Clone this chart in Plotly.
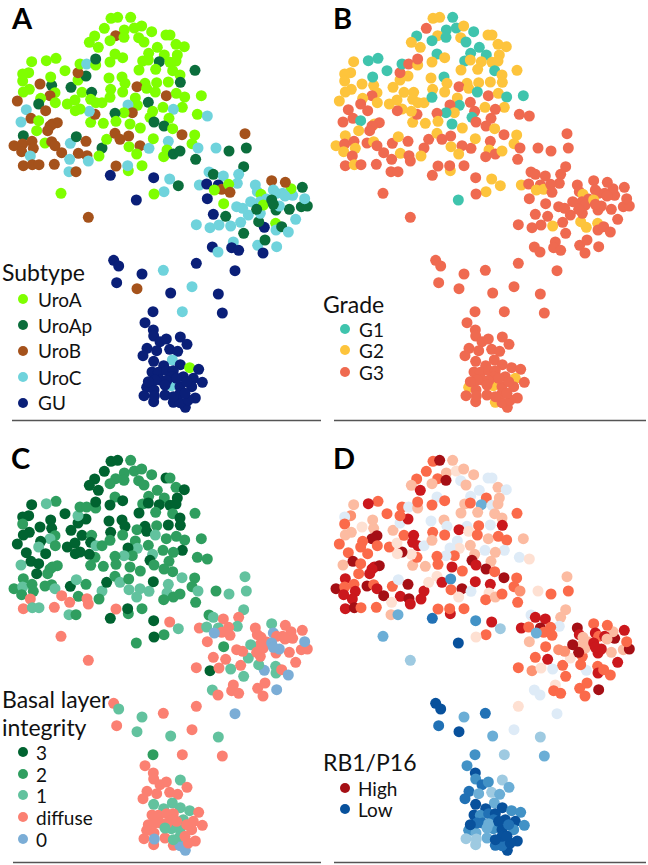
#!/usr/bin/env python3
"""
Four t-SNE style panels of the same samples, coloured by subtype, grade,
basal layer integrity and RB1/P16 score.
"""

import plotly.graph_objects as go

WIDTH = 648
HEIGHT = 865

# Embedding coordinates shared by all panels
X = [
    333, 353, 392, 313, 373, 403, 425, 347, 372, 284,
    268, 295, 330, 416, 432, 455, 498, 510, 528, 553,
    472, 493, 532, 446, 345, 368, 330, 428, 478, 445,
    510, 528, 518, 467, 417, 540, 585, 541, 505, 470,
    435, 411, 440, 466, 499, 529, 554, 604, 547, 489,
    520, 592, 622, 445, 406, 412, 384, 458, 450, 397,
    372, 345, 507, 462, 492, 518, 421, 390, 348, 310,
    272, 285, 268, 240, 226, 202, 225, 246, 275, 272,
    288, 306, 332, 330, 327, 366, 375, 368, 213, 234,
    258, 234, 240, 260, 287, 287, 195, 168, 139, 95,
    86, 68, 68, 88, 70, 52, 120, 155, 152, 165,
    150, 122, 116, 166, 137, 79, 63, 93, 116, 110,
    157, 172, 150, 143, 70, 42, 68, 96, 100, 65,
    91, 70, 97, 117, 163, 135, 155, 165, 185, 211,
    229, 258, 235, 261, 209, 265, 207, 228, 306, 297,
    320, 345, 360, 386, 387, 420, 410, 447, 460, 505,
    501, 491, 520, 540, 546, 584, 576, 594, 587, 648,
    687, 735, 739, 731, 348, 385, 383, 426, 331, 461,
    509, 535, 492, 462, 409, 183, 265,
    # right cluster
    627, 640, 670, 716, 712, 598, 620, 655, 665, 686,
    643, 690, 622, 671, 640, 677, 589, 630, 657, 692,
    722, 745, 710, 728, 731, 637, 654, 700, 695, 716,
    773, 795, 789, 830, 793, 776, 781, 827, 828, 845,
    865, 887, 868, 828, 838, 904, 922, 914, 907, 878,
    873, 856, 815, 766, 772, 783, 820, 830, 848, 855,
    800, 780, 752, 790, 770, 815, 820,
    # bottom cluster
    341, 356, 426, 490, 589, 705, 350, 411, 512, 576,
    655, 667, 459, 547, 435, 460, 461, 480, 499, 541,
    561, 441, 429, 470, 509, 533, 461, 517, 491, 541,
    569, 596, 456, 475, 500, 520, 482, 550, 580, 607,
    440, 462, 514, 495, 540, 575, 432, 461, 463, 520,
    586, 556, 540, 565, 540, 515, 500,
    465, 495, 530, 560, 520, 555, 445,
]
Y = [
    55, 52, 52, 85, 90, 84, 78, 107, 112, 108,
    127, 142, 122, 113, 126, 95, 105, 105, 133, 140,
    142, 165, 165, 160, 162, 173, 186, 183, 185, 180,
    187, 183, 212, 208, 210, 225, 211, 247, 246, 248,
    250, 260, 265, 276, 287, 280, 291, 287, 322, 322,
    328, 343, 348, 307, 294, 316, 315, 334, 352, 338,
    338, 340, 355, 366, 378, 386, 384, 372, 364, 370,
    367, 343, 334, 327, 332, 312, 300, 277, 277, 298,
    308, 308, 268, 292, 234, 231, 250, 276, 262, 240,
    228, 218, 192, 192, 195, 177, 212, 175, 182, 185,
    218, 222, 243, 268, 276, 303, 252, 256, 231, 278,
    287, 295, 312, 308, 332, 329, 366, 355, 362, 392,
    372, 368, 378, 392, 407, 437, 432, 424, 445, 455,
    468, 497, 494, 494, 493, 429, 425, 437, 458, 430,
    410, 424, 460, 467, 478, 483, 515, 515, 444, 468,
    418, 400, 418, 408, 440, 437, 462, 445, 416, 424,
    450, 470, 462, 453, 404, 405, 431, 444, 478, 444,
    453, 401, 444, 500, 498, 512, 497, 497, 526, 533,
    537, 557, 575, 582, 600, 580, 652,
    # right cluster
    516, 523, 528, 523, 550, 555, 552, 555, 568, 553,
    570, 577, 596, 611, 643, 649, 674, 683, 675, 678,
    667, 645, 620, 625, 700, 741, 756, 726, 743, 751,
    736, 720, 759, 740, 682, 665, 640, 670, 690, 680,
    696, 658, 628, 630, 618, 620, 618, 596, 562, 586,
    566, 547, 542, 555, 575, 583, 570, 580, 580, 588,
    597, 605, 605, 615, 628, 600, 613,
    # bottom cluster
    781, 798, 822, 811, 790, 812, 848, 866, 879, 860,
    882, 939, 935, 935, 968, 990, 1008, 1025, 1017, 1011,
    1033, 1045, 1067, 1052, 1048, 1054, 1084, 1080, 1097, 1094,
    1103, 1108, 1116, 1117, 1112, 1112, 1140, 1130, 1135, 1147,
    1162, 1170, 1157, 1185, 1160, 1160, 1187, 1205, 1188, 1207,
    1194, 1222, 1208, 1200, 1180, 1130, 1142,
    1140, 1155, 1135, 1145, 1190, 1180, 1145,
]

# A = UroA, P = UroAp, B = UroB, C = UroC, G = GU
SUBTYPE = list(
    "AAAAAAABAA" "AAAAAAAAAA" "AAAAAAAAPA" "AAAAAAPPAA" "ABAABAAAAA"
    "CACPAACAAB" "APAPPAAAAA" "ABCAAAAAPA" "AAAAAAAAPA" "PBACAPAAAA"
    "AAAAABBPAA" "BAPABCCBAA" "BBBBPBBBBB" "CBBBBABBBC" "PBBBCCCBPA"
    "ABBBABACAC" "AAPPBAACPC" "PBPPBACAGG" "CPCAGAB"
    "CPCCCCGGBA" "ABGAGPCCCC" "CCCCPGCCGG" "CPGCGPCACP"
    "CCPPCPPCPC" "ABBCCACCCC" "CCCAPPP"
    "GGGCGGGBGC" "GGGCGGGGGG" "GGGGGGGCGG" "AGGGGGGGGG" "GGCGGGGGGG" "GGGGGGG"
    "GGGGGGG"
)
GRADE = list(
    "2213112211" "2212112222" "1121122122" "2212222222" "2321321122"
    "3333213312" "1333322122" "2322322222" "2221212222" "2313231112"
    "2222222212" "3232333312" "2333223322" "3323332333" "2323333332"
    "3233232323" "2332322333" "3333323333" "2223133"
    "3333323323" "2333333332" "3333333333" "3333223233"
    "3333333333" "3333323333" "3333323"
    "3333333333" "3333333333" "3333333333" "3333333323" "2323333332" "3333333"
    "3333333"
)
BASAL = list(
    "3323222223" "3322223223" "2232233233" "3322332332" "3231222232"
    "2222213132" "1222222222" "2233333323" "1232333233" "3122233213"
    "3323333332" "1312331333" "2222221222" "dd11d221d3" "122ddd1212"
    "3212111131" "1222122122" "1111d23233" "d1232dd"
    "21dd1d11dd" "0dd2ddd3d1" "d1dd11dddd" "ddd001d11d"
    "0ddd0dd0dd" "dd1ddd0ddd" "dd1dd00"
    "d11dd0d11d" "1d2dddddd1" "dddddd1111" "1dddddd1dd" "dd1d1ddd0d" "d00d1dd"
    "d1dd1dd"
)
RB1 = [
    4, 6, 2, 4, 2, 1, 2, 4, 6, 4,
    2, 5, 2, -1, 2, 2, -1, -1, 2, -1,
    -1, 4, 2, -1, -1, 4, 4, 2, -3, 4,
    -1, 2, 2, 2, 2, 2, 4, 5, -1, 4,
    -1, 5, 1, 4, 2, 4, 4, 2, -1, -1,
    2, -1, 1, 2, -1, 1, -1, 2, 6, 4,
    -1, 4, 2, 5, 6, 4, 4, 5, 4, 2,
    2, 4, 1, 6, 1, 4, 1, 4, 5, 5,
    5, -1, 4, 2, -1, 2, -1, 4, 2, -1,
    5, 4, 4, -1, 2, 4, 4, 4, 5, 2,
    3, -1, 4, 2, 2, 4, 1, 2, 2, 6,
    6, 4, 4, 4, 4, 4, 2, 6, 4, 4,
    5, 6, 5, 5, 5, 6, 4, 4, 5, 5,
    5, 5, 6, 4, 4, 6, 4, 5, 6, 4,
    -1, 6, 5, 6, 1, 5, 2, -3, 5, 5,
    1, 1, 5, -4, 4, 6, 1, -1, 5, 5,
    1, 4, 2, 4, 6, 4, 4, 3, 4, 1,
    4, 2, 4, 2, 4, 5, 4, 4, -5, -4,
    5, -2, 4, 1, -6, -3, -2,
    # right cluster
    -1, 5, 5, 2, -1, 5, 4, 6, 4, 4,
    -3, 4, 2, 4, 4, 5, 4, 3, 1, -1,
    4, 1, 3, 3, 4, -1, -1, 1, 4, 4,
    4, 4, 4, 6, -1, 4, 4, 4, 5, 4,
    4, 5, 2, 5, 5, 2, 6, 4, 5, 6,
    2, 4, 4, 6, 5, 2, 5, 4, 5, 2,
    2, 2, 6, 2, 6, 5, 5,
    # bottom cluster
    -6, -6, -3, -5, 1, -1, -5, -6, -3, -1,
    -2, -3, -4, -2, -4, -6, -4, -5, -4, -2,
    -3, -5, -5, -3, -2, -3, -6, -3, -6, -6,
    -4, -4, -6, -4, -5, -6, -5, -6, -6, -4,
    -4, -3, -4, -3, -6, -4, -2, -2, -2, -5,
    -6, -6, -5, -6, -6, -5, -3,
    -5, -3, -6, -5, -6, -6, -6,
]

SUBTYPE_NAMES = ["UroA", "UroAp", "UroB", "UroC", "GU"]
SUBTYPE_COLORS = {"A": "#7fff00", "P": "#0b6e3c", "B": "#a5521b", "C": "#6fd3dc", "G": "#0a1f78"}
GRADE_NAMES = ["G1", "G2", "G3"]
GRADE_COLORS = {"1": "#3fc4ad", "2": "#fdc43c", "3": "#ef6a50"}
BASAL_NAMES = ["3", "2", "1", "diffuse", "0"]
BASAL_COLORS = {"3": "#006330", "2": "#2f9e5f", "1": "#62c29e", "d": "#fb8072", "0": "#7badd6"}
RB1_NAMES = ["High", "Low"]
RB1_SCALE = [
    "#08519c", "#2171b5", "#4292c6", "#6baed6", "#9ecae1", "#deebf7", "#ffffff",
    "#fee0d2", "#fcbba1", "#fc9272", "#fb6a4a", "#cb181d", "#a50f15",
]

FONT = "Lato"
MARKER = 11

assert len(X) == len(Y) == len(SUBTYPE) == len(GRADE) == len(BASAL) == len(RB1), (
    len(X), len(Y), len(SUBTYPE), len(GRADE), len(BASAL), len(RB1))


def panel_trace(colors, n):
    return go.Scatter(
        x=X, y=Y, mode="markers", xaxis=f"x{n}", yaxis=f"y{n}", showlegend=False, cliponaxis=False,
        marker=dict(size=MARKER, color=colors, line=dict(width=0)),
    )


def text(x, y, label, size=19, color="#111111"):
    return dict(
        x=x / WIDTH, y=1 - y / HEIGHT, xref="paper", yref="paper", text=label, showarrow=False,
        xanchor="left", yanchor="middle", borderpad=0, font=dict(family=FONT, size=size, color=color),
    )


def dots(x, ys, colors, xoff, yoff, n):
    # legend dots live in panel units, 3 units per pixel
    return go.Scatter(
        x=[(x - xoff) * 3] * len(ys), y=[(y - yoff) * 3 for y in ys], mode="markers",
        xaxis=f"x{n}", yaxis=f"y{n}", showlegend=False, cliponaxis=False,
        marker=dict(size=MARKER - 1, color=colors, line=dict(width=0)),
    )


fig = go.Figure()
fig.add_trace(panel_trace([SUBTYPE_COLORS[s] for s in SUBTYPE], 1))
fig.add_trace(panel_trace([GRADE_COLORS[g] for g in GRADE], 2))
fig.add_trace(panel_trace([BASAL_COLORS[b] for b in BASAL], 3))
fig.add_trace(go.Scatter(
    x=X, y=Y, mode="markers", xaxis="x4", yaxis="y4", showlegend=False, cliponaxis=False,
    marker=dict(
        size=MARKER, color=RB1, cmin=-6, cmax=6, showscale=False, line=dict(width=0),
        colorscale=[[i / 12, c] for i, c in enumerate(RB1_SCALE)],
    ),
))

# Legends
sub_y = [299, 325, 351, 377, 403]
grade_y = [329, 350, 372]
basal_y = [752, 774, 795, 817, 839]
rb_y = [788, 809]
fig.add_trace(dots(23, sub_y, list(SUBTYPE_COLORS.values()), 0, 0, 1))
fig.add_trace(dots(345, grade_y, list(GRADE_COLORS.values()), 322, 0, 2))
fig.add_trace(dots(23, basal_y, list(BASAL_COLORS.values()), 0, 443, 3))
fig.add_trace(dots(345, rb_y, ["#a50f15", "#08519c"], 322, 443, 4))

annotations = [
    text(10, 17, "<b>A</b>", 29, "#000000"),
    text(332, 17, "<b>B</b>", 29, "#000000"),
    text(10, 458, "<b>C</b>", 29, "#000000"),
    text(332, 458, "<b>D</b>", 29, "#000000"),
    text(1, 272, "Subtype", 23),
    text(322, 304, "Grade", 23),
    text(1, 699, "Basal layer", 23),
    text(1, 727, "integrity", 23),
    text(322, 762, "RB1/P16", 23),
]
annotations += [text(37, y, t, 19) for y, t in zip(sub_y, SUBTYPE_NAMES)]
annotations += [text(358, y, t, 19) for y, t in zip(grade_y, GRADE_NAMES)]
annotations += [text(35, y, t, 19) for y, t in zip(basal_y, BASAL_NAMES)]
annotations += [text(357, y, t, 19) for y, t in zip(rb_y, RB1_NAMES)]

rules = [(12, 321, 420.5), (334, 646, 420.5), (13, 321, 862.5), (334, 646, 862.5)]
shapes = [
    dict(type="line", xref="paper", yref="paper", x0=a / WIDTH, x1=b / WIDTH,
         y0=1 - y / HEIGHT, y1=1 - y / HEIGHT, line=dict(color="#555555", width=1.5))
    for a, b, y in rules
]

axis = dict(visible=False, fixedrange=True)
layout = dict(
    width=WIDTH, height=HEIGHT, autosize=False, margin=dict(l=0, r=0, t=0, b=0),
    plot_bgcolor="white", paper_bgcolor="white", annotations=annotations, shapes=shapes,
)
domains = {1: (0, 0), 2: (322, 0), 3: (0, 443), 4: (322, 443)}
for n, (px, py) in domains.items():
    layout[f"xaxis{n}"] = dict(axis, range=[0, 966], domain=[px / WIDTH, (px + 322) / WIDTH], anchor=f"y{n}")
    layout[f"yaxis{n}"] = dict(axis, range=[1266, 0], domain=[1 - (py + 422) / HEIGHT, 1 - py / HEIGHT], anchor=f"x{n}")
fig.update_layout(**layout)

fig.write_html(
    "out.html", config={"displayModeBar": False},
    post_script="document.body.style.margin='0';document.documentElement.style.overflow='hidden';",
)
